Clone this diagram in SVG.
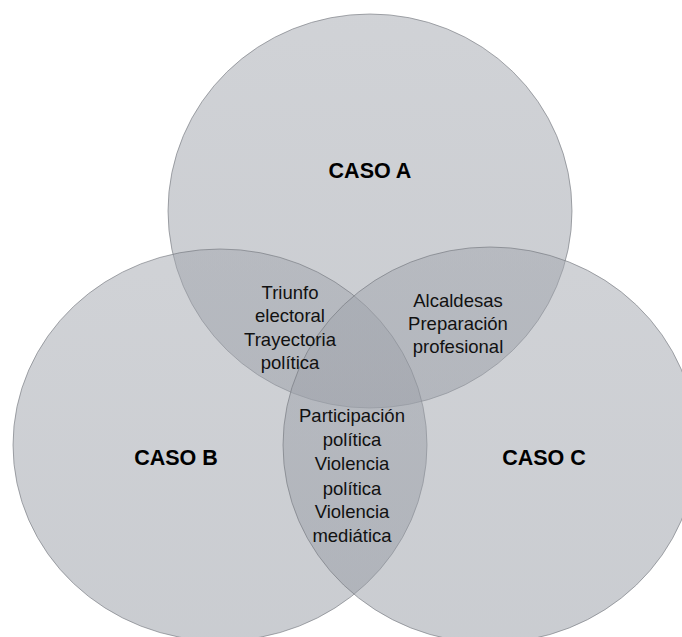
<svg xmlns="http://www.w3.org/2000/svg" width="682" height="637" viewBox="0 0 682 637">
  <defs>
    <linearGradient id="g" x1="0" y1="0" x2="0" y2="1">
      <stop offset="0" stop-color="#a2a6ae"/>
      <stop offset="1" stop-color="#959aa3"/>
    </linearGradient>
  </defs>
  <style>
    .c { fill: url(#g); fill-opacity: 0.5; stroke: #6f737a; stroke-opacity: 0.6; stroke-width: 1; }
    .t { font-family: "Liberation Sans", Arial, sans-serif; font-size: 18.5px; fill: #111; text-anchor: middle; }
    .h { font-family: "Liberation Sans", Arial, sans-serif; font-size: 21.5px; font-weight: bold; fill: #000; text-anchor: middle; }
  </style>
  <rect width="682" height="637" fill="#ffffff"/>
  <g id="caso-a">
    <ellipse class="c" cx="370" cy="211" rx="202" ry="197"/>
  </g>
  <g id="caso-b">
    <ellipse class="c" cx="220" cy="445" rx="207" ry="196"/>
  </g>
  <g id="caso-c">
    <ellipse class="c" cx="490" cy="445" rx="207" ry="198"/>
  </g>
  <g id="connectors"/>
  <g id="labels">
    <text class="h" x="370" y="178">CASO A</text>
    <text class="h" x="176" y="465">CASO B</text>
    <text class="h" x="544" y="465">CASO C</text>
  </g>
  <g id="ab">
    <text class="t" x="290" y="299">Triunfo</text>
    <text class="t" x="290" y="322">electoral</text>
    <text class="t" x="290" y="346">Trayectoria</text>
    <text class="t" x="290" y="369">política</text>
  </g>
  <g id="ac">
    <text class="t" x="458" y="307">Alcaldesas</text>
    <text class="t" x="458" y="330">Preparación</text>
    <text class="t" x="458" y="353">profesional</text>
  </g>
  <g id="bc">
    <text class="t" x="352" y="422">Participación</text>
    <text class="t" x="352" y="446">política</text>
    <text class="t" x="352" y="470">Violencia</text>
    <text class="t" x="352" y="495">política</text>
    <text class="t" x="352" y="518">Violencia</text>
    <text class="t" x="352" y="542">mediática</text>
  </g>
</svg>
